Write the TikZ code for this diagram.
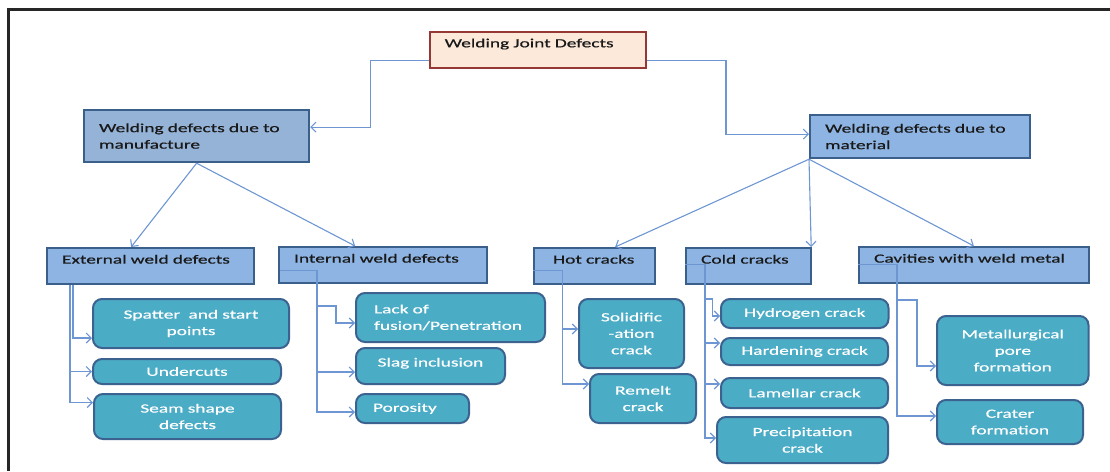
\documentclass[tikz,border=0pt]{standalone}
\usepackage{fontspec}
\setmainfont{Carlito}[FakeStretch=1.55,FakeBold=0.6]
\usetikzlibrary{arrows.meta,calc}
\definecolor{peachfill}{HTML}{FDE9D9}
\definecolor{peachline}{HTML}{953735}
\definecolor{bluefill}{HTML}{8EB4E3}
\definecolor{bluefilltwo}{HTML}{95B3D7}
\definecolor{boxline}{HTML}{3A5F8B}
\definecolor{tealfill}{HTML}{4BACC6}
\definecolor{tealline}{HTML}{3C6290}
\definecolor{lineblue}{HTML}{6E96D2}
\tikzset{
  txt/.style={font=\fontsize{12.5}{16.5}\selectfont},
  bluebox/.style={txt, draw=boxline, fill=bluefill, line width=2.2pt, anchor=north west,
    inner xsep=15pt, inner ysep=0pt, align=left, text=black!90},
  oneline/.style={text height=9pt, text depth=14pt},
  peachbox/.style={bluebox, fill=peachfill, draw=peachline},
  tealbox/.style={txt, draw=tealline, fill=tealfill, line width=2pt, rounded corners=9pt,
    anchor=north west, inner xsep=4pt, inner ysep=0pt, align=center, text=white},
  conn/.style={draw=lineblue, line width=1.1pt, -{Straight Barb[length=5pt,width=10pt]}},
  plain/.style={draw=lineblue, line width=1.1pt}
}
\begin{document}
\begin{tikzpicture}[x=1pt,y=-1pt]
\useasboundingbox (0,0) rectangle (1110,471);
\draw[line width=2.2pt, black!85] (8.5,471) -- (8.5,9.5) -- (1110,9.5);

% level 0
\node[peachbox, oneline, text width=186pt, minimum height=36pt] (top) at (428.6,30.7) {Welding Joint Defects};
% level 1
\node[bluebox, fill=bluefilltwo, text width=195pt, minimum height=52pt] (manu) at (83,109) {Welding defects due to\\manufacture};
\node[bluebox, text width=189.6pt, minimum height=43pt] (mat) at (809,114) {Welding defects due to\\material};
% level 2
\node[bluebox, oneline, text width=177pt, minimum height=36pt] (ext) at (46,247) {External weld defects};
\node[bluebox, oneline, text width=178pt, minimum height=36pt] (int) at (278,246) {Internal weld defects};
\node[bluebox, oneline, inner xsep=19pt, text width=83pt, minimum height=36pt] (hot) at (533,247) {Hot cracks};
\node[bluebox, oneline, text width=95pt, minimum height=36pt] (cold) at (685,247) {Cold cracks};
\node[bluebox, oneline, text width=199.5pt, minimum height=36pt] (cav) at (858,246) {Cavities with weld metal};
% level 3
\node[tealbox, text width=188pt, minimum height=49pt] (spat) at (92,298) {Spatter\ \ and start\\points};
\node[tealbox, text width=180pt, minimum height=25pt] (under) at (92,358) {Undercuts};
\node[tealbox, text width=179pt, minimum height=45pt] (seam) at (93,393) {Seam shape\\defects};
\node[tealbox, align=left, inner xsep=18pt, text width=153pt, minimum height=49pt] (lack) at (355,292) {Lack of\\fusion/Penetration};
\node[tealbox, text width=141pt, minimum height=36pt, text height=9pt, text depth=8pt] (slag) at (355,347) {Slag inclusion};
\node[tealbox, align=left, inner xsep=17pt, text width=79pt, minimum height=29pt] (poro) at (355,393) {Porosity};
\node[tealbox, text width=97pt, minimum height=69pt] (solid) at (578,298) {Solidific\\-ation\\crack};
\node[tealbox, text width=98pt, minimum height=49pt] (remelt) at (589,373) {Remelt\\crack};
\node[tealbox, text width=159.5pt, minimum height=29pt] (hydro) at (720,298) {Hydrogen crack};
\node[tealbox, text width=159pt, minimum height=27pt] (hard) at (720,337) {Hardening crack};
\node[tealbox, text width=159pt, minimum height=30pt] (lam) at (720,377) {Lamellar crack};
\node[tealbox, text width=163pt, minimum height=46pt] (prec) at (716,416) {Precipitation\\crack};
\node[tealbox, text width=143.5pt, minimum height=69pt] (met) at (936,315) {Metallurgical\\pore\\formation};
\node[tealbox, text width=138pt, minimum height=44pt] (crat) at (936,399) {Crater\\formation};

% connectors level 0 -> 1
\draw[conn] ($(top.west)+(0,10.6)$) -| ($(manu.east)+(60,-9)$) -- ($(manu.east)+(0,-9)$);
\draw[conn] ($(top.east)+(0,10.6)$) -| ($(mat.west)+(-83,-2.5)$) -- ($(mat.west)+(0,-2.5)$);
% level 1 -> 2
\draw[conn] (manu.south) -- ($(ext.north)+(-19.5,0)$);
\draw[conn] (manu.south) -- ($(int.north)+(-28,0)$);
\draw[conn] (mat.south west) -- ($(hot.north)+(20.5,0)$);
\draw[conn] (mat.south west) -- ($(cold.north east)+(-1,0)$);
\draw[conn] (mat.south west) -- (cav.north);
% external
\draw[conn] ($(ext.south west)+(27,0)$) |- ($(spat.west)+(0,14.5)$);
\draw[conn] ($(ext.south west)+(24,0)$) |- (under.west);
\draw[conn] ($(ext.south west)+(24,0)$) |- ($(seam.west)+(0,-14)$);
% internal
\coordinate (ibr) at ($(int.west)+(39,5)$);
\draw[plain] ($(int.west)+(2,5)$) -- (ibr);
\draw[conn] (ibr) |- ($(lack.west)+(-19,-11.5)$) |- ($(lack.west)+(0,5.5)$);
\draw[conn] (ibr) |- ($(slag.west)+(0,6)$);
\draw[conn] (ibr) |- ($(poro.west)+(0,3.5)$);
% hot
\coordinate (hbr) at ($(hot.west)+(29.5,4)$);
\draw[plain] ($(hot.west)+(0,4)$) -- (hbr);
\draw[conn] (hbr) |- ($(solid.west)+(0,-4.5)$);
\draw[conn] (hbr) |- ($(remelt.west)+(0,-14.5)$);
% cold
\coordinate (cbr) at ($(cold.west)+(20,-2)$);
\draw[plain] ($(cold.west)+(0,-2)$) -- (cbr);
\draw[conn] (cbr) |- ($(hydro.west)+(-7.5,-14.5)$) |- ($(hydro.west)+(0,2.5)$);
\draw[conn] (cbr) |- ($(hard.west)+(0,-8.5)$);
\draw[conn] (cbr) |- ($(lam.west)+(0,-9)$);
\draw[conn] (cbr) |- ($(prec.west)+(0,-2)$);
% cavities
\coordinate (vbr) at ($(cav.west)+(39,-1)$);
\draw[plain] ($(cav.west)+(0,-1)$) -- (vbr);
\draw[conn] (vbr) |- ($(met.west)+(-19,-50.5)$) |- ($(met.west)+(0,15.5)$);
\draw[conn] (vbr) |- ($(crat.west)+(0,-6)$);
\end{tikzpicture}
\end{document}
